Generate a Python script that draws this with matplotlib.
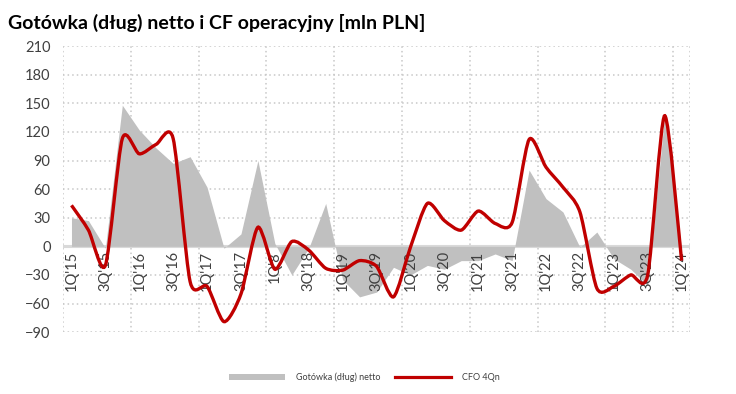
import numpy as np
import matplotlib.pyplot as plt
from matplotlib.path import Path
from matplotlib.patches import PathPatch, Patch
from matplotlib.lines import Line2D

plt.rcParams['font.family'] = ['Lato', 'DejaVu Sans']

quarters = [f"{q}Q'{y}" for y in range(15, 25) for q in range(1, 5)][:37]
labels = ["1Q'15", "3Q'15", "1Q'16", "3Q'16", "1Q'17", "3Q'17", "1Q'8", "3Q'18",
          "1Q'19", "3Q'19", "1Q'20", "3Q'20", "1Q'21", "3Q'21", "1Q'22", "3Q'22",
          "1Q'23", "3Q'23", "1Q'24"]

net_cash = [30, 27, -2, 148, 122, 103, 87, 94, 62, -2, 13, 90, 3, -30, -2, 45,
            -35, -53, -48, -22, -30, -20, -24, -15, -15, -8, -15, 80, 50, 36,
            -1, 15, -13, -24, -41, 137, -3]
cfo_4q = [43, 17, -20, 113, 97, 107, 113, -37, -42, -79, -50, 20, -24, 5, -4, -23,
          -25, -15, -21, -53, -1, 45, 27, 17, 37, 24, 25, 112, 83, 62, 36, -44,
          -42, -30, -30, 137, -15]

red = '#c00000'
grey = '#c0c0c0'
txt = '#404040'

fig = plt.figure(figsize=(7.36, 3.94), dpi=100)
ax = fig.add_axes([0.0856, 0.157, 0.852, 0.726])

x = np.arange(len(quarters))
ax.fill_between(x, net_cash, 0, color=grey, lw=0, zorder=2)
ax.axhline(0, color='#d9d9d9', lw=2.2, zorder=1.5)

# smoothed line, bezier segments through the quarterly points
pts = np.column_stack([x, cfo_4q]).astype(float)
n = len(pts)
t = 1 / 8
verts = [pts[0]]
for i in range(n - 1):
    p0 = pts[i - 1] if i > 0 else pts[i]
    p1, p2 = pts[i], pts[i + 1]
    p3 = pts[i + 2] if i + 2 < n else pts[i + 1]
    verts += [p1 + (p2 - p0) * t, p2 - (p3 - p1) * t, p2]
codes = [Path.MOVETO] + [Path.CURVE4] * (3 * (n - 1))
ax.add_patch(PathPatch(Path(verts, codes), facecolor='none', edgecolor=red,
                       lw=2.4, zorder=4))

for k, lab in enumerate(labels):
    ax.text(2 * k, -5, lab, rotation=90, ha='center', va='top',
            fontsize=10.5, color=txt, zorder=3)

ax.set_xlim(-0.5, 36.5)
ax.set_ylim(-90, 210)
ax.set_yticks(np.arange(-90, 211, 30))
ax.set_xticks(list(np.arange(-0.5, 36, 4)) + [36.5])
ax.set_xticklabels([])
ax.tick_params(length=0, labelsize=10.5, labelcolor=txt, pad=9)
ax.grid(True, color='#c8c8c8', ls=(0, (1, 2)), lw=1.1, zorder=0)
ax.set_axisbelow(True)
for s in ax.spines.values():
    s.set_visible(False)

fig.text(0.011, 0.965, 'Gotówka (dług) netto i CF operacyjny [mln PLN]',
         fontsize=14, fontweight='bold', color='black', va='top')

handles = [Patch(facecolor=grey, edgecolor='none'),
           Line2D([0], [0], color=red, lw=2.3)]
fig.legend(handles, ['Gotówka (dług) netto', 'CFO 4Qn'], ncol=2,
           loc='center', bbox_to_anchor=(0.495, 0.043), frameon=False,
           fontsize=6.5, handlelength=6.2, handleheight=0.6, columnspacing=1.6,
           handletextpad=1.2, labelcolor=txt)

fig.savefig('out.png', dpi=100)
plt.close()
